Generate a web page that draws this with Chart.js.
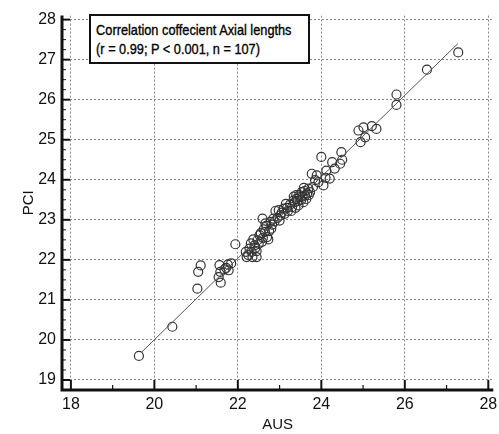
<!DOCTYPE html>
<html>
<head>
<meta charset="utf-8">
<script src="https://cdn.jsdelivr.net/npm/chart.js@4.4.0/dist/chart.umd.min.js"></script>
<style>
  body { margin: 0; background: #fff; }
  #wrap { position: relative; width: 499px; height: 434px; overflow: hidden; }
  #note {
    position: absolute; left: 89px; top: 14px; width: 217px; height: 46px;
    border: 2px solid #111; background: #fff; box-sizing: content-box;
    font-family: Arial, "Liberation Sans", sans-serif;
    font-size: 15px; line-height: 19px; color: #000; overflow: hidden;
    -webkit-text-stroke: 0.35px #000;
  }
  #note div {
    white-space: nowrap; padding-left: 6px;
    transform: scaleX(0.85); transform-origin: 0 0;
  }
  #note div:first-child { padding-top: 4px; }
</style>
</head>
<body>
<div id="wrap">
  <canvas id="chart" width="499" height="434"></canvas>
  <div id="note">
    <div>Correlation coffecient Axial lengths</div>
    <div>(r = 0.99; P &lt; 0.001, n = 107)</div>
  </div>
</div>
<script>
// AUS values (x)
const aus = [
  19.63, 20.43, 21.03, 21.05, 21.11, 21.56, 21.58, 21.54, 21.59, 21.68,
  21.76, 21.78, 21.84, 21.94, 22.19, 22.21, 22.33, 22.35, 22.45, 22.45,
  22.40, 22.31, 22.37, 22.47, 22.55, 22.62, 22.70, 22.73, 22.59, 22.66,
  22.78, 22.85, 22.90, 23.02, 23.10, 23.18, 23.30, 23.37, 23.41, 23.45,
  23.49, 23.53, 23.57, 23.61, 23.69, 23.73, 23.77, 23.89, 23.85, 23.93,
  24.05, 24.00, 24.12, 24.20, 24.26, 24.32, 24.45, 24.50, 24.48, 24.89,
  25.01, 25.21, 25.32, 24.94, 25.05, 25.80, 25.80, 26.53, 27.28, 22.42,
  22.50, 22.58, 22.52, 22.65, 22.68, 22.75, 22.82, 22.88, 22.95, 23.00,
  23.05, 23.12, 23.20, 23.25, 23.33, 23.38, 23.43, 23.47, 23.52, 23.55,
  23.60, 23.64, 23.66, 23.70, 23.34, 23.28, 22.98, 22.60, 22.28, 22.25,
  21.72, 23.80, 23.58, 24.10, 22.80, 23.15, 23.40
];
// PCI values (y)
const pci = [
  19.60, 20.33, 21.28, 21.70, 21.86, 21.87, 21.70, 21.57, 21.43, 21.76,
  21.88, 21.74, 21.91, 22.39, 22.20, 22.07, 22.20, 22.07, 22.22, 22.07,
  22.36, 22.41, 22.51, 22.49, 22.67, 22.76, 22.57, 22.51, 23.03, 22.91,
  22.95, 23.03, 23.22, 23.11, 23.28, 23.30, 23.32, 23.44, 23.53, 23.36,
  23.57, 23.69, 23.44, 23.61, 23.78, 23.69, 24.15, 24.11, 23.99, 23.94,
  23.86, 24.57, 24.23, 24.03, 24.44, 24.28, 24.40, 24.50, 24.69, 25.23,
  25.31, 25.34, 25.27, 24.94, 25.06, 25.87, 26.13, 26.75, 27.18, 22.30,
  22.40, 22.45, 22.62, 22.70, 22.85, 22.72, 22.88, 22.96, 23.05, 22.98,
  23.18, 23.15, 23.22, 23.38, 23.48, 23.30, 23.47, 23.62, 23.50, 23.58,
  23.72, 23.52, 23.66, 23.62, 23.58, 23.22, 23.24, 22.55, 22.28, 22.12,
  21.80, 23.82, 23.80, 24.05, 22.78, 23.40, 23.62
];
// regression line end points
const fitX = [19.70, 27.27];
const fitY = [19.70, 27.40];

const xTicks = [18, 20, 22, 24, 26, 28];
const yTicks = [19, 20, 21, 22, 23, 24, 25, 26, 27, 28];

const fontFamily = 'Arial, "Liberation Sans", sans-serif';
const tickFont = { family: fontFamily, size: 16 };

// solid axis lines plus inward tick marks like the original figure
const axesAndTicks = {
  id: 'axesAndTicks',
  afterDraw(chart) {
    const ctx = chart.ctx;
    const xs = chart.scales.x, ys = chart.scales.y;
    const area = chart.chartArea;
    ctx.save();
    ctx.strokeStyle = '#111';
    ctx.lineWidth = 3;
    ctx.beginPath();
    ctx.moveTo(area.left, area.top);
    ctx.lineTo(area.left, area.bottom);
    ctx.lineTo(area.right, area.bottom);
    ctx.stroke();
    for (let v = 18; v <= 28; v++) {
      const px = xs.getPixelForValue(v);
      const len = v % 2 === 0 ? 10 : 5;
      ctx.lineWidth = v % 2 === 0 ? 2 : 1.2;
      ctx.beginPath();
      ctx.moveTo(px, area.bottom);
      ctx.lineTo(px, area.bottom - len);
      ctx.stroke();
    }
    for (let v = 19; v <= 28; v += 0.25) {
      const py = ys.getPixelForValue(v);
      const major = Number.isInteger(v);
      ctx.lineWidth = major ? 2 : 1;
      ctx.beginPath();
      ctx.moveTo(area.left, py);
      ctx.lineTo(area.left + (major ? 8 : 4), py);
      ctx.stroke();
    }
    ctx.restore();
  }
};

new Chart(document.getElementById('chart'), {
  type: 'scatter',
  data: {
    datasets: [
      {
        label: 'fit',
        type: 'line',
        data: fitX.map((x, i) => ({ x: x, y: fitY[i] })),
        borderColor: '#555',
        borderWidth: 1,
        pointRadius: 0,
        fill: false,
        order: 1
      },
      {
        label: 'PCI vs AUS',
        data: aus.map((x, i) => ({ x: x, y: pci[i] })),
        pointStyle: 'circle',
        pointRadius: 4.5,
        borderWidth: 1.2,
        borderColor: '#333',
        backgroundColor: 'rgba(255,255,255,0)',
        order: 2
      }
    ]
  },
  options: {
    responsive: false,
    animation: false,
    layout: { padding: { top: 15, right: 0, left: 0, bottom: 0 } },
    plugins: {
      legend: { display: false },
      tooltip: { enabled: false }
    },
    scales: {
      x: {
        type: 'linear',
        min: 17.787,
        max: 28.12,
        afterBuildTicks: s => { s.ticks = xTicks.map(v => ({ value: v })); },
        afterFit: s => { s.height = 44; s.paddingLeft = 0; s.paddingRight = 0; },
        ticks: { color: '#111', font: tickFont, padding: 5, maxRotation: 0 },
        grid: { color: '#888', drawTicks: false, lineWidth: 1 },
        border: { display: false, dash: [2, 2] },
        title: { display: true, text: 'AUS', color: '#111', font: { family: fontFamily, size: 15 }, padding: { top: 7, bottom: 0 } }
      },
      y: {
        type: 'linear',
        min: 18.75,
        max: 28.1,
        afterBuildTicks: s => { s.ticks = yTicks.map(v => ({ value: v })); },
        afterFit: s => { s.width = 62; },
        ticks: { color: '#111', font: tickFont, padding: 6 },
        grid: { color: '#888', drawTicks: false, lineWidth: 1 },
        border: { display: false, dash: [2, 2] },
        title: { display: true, text: 'PCI', color: '#111', font: { family: fontFamily, size: 15 }, padding: { top: 20, bottom: 4 } }
      }
    }
  },
  plugins: [axesAndTicks]
});
</script>
</body>
</html>
